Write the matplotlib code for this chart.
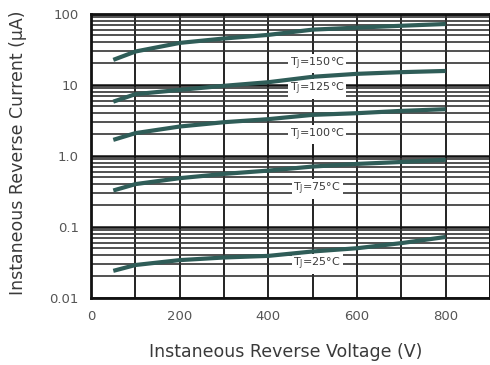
import numpy as np
import matplotlib
matplotlib.use("Agg")
import matplotlib.pyplot as plt
from matplotlib.ticker import LogLocator, MultipleLocator, NullFormatter, FixedLocator

plt.rcParams['font.family'] = ['DejaVu Sans']

# data
voltage = [50, 100, 200, 300, 400, 500, 600, 700, 800]
i_25 = [0.024, 0.029, 0.034, 0.037, 0.039, 0.045, 0.050, 0.059, 0.072]
i_75 = [0.325, 0.40, 0.485, 0.557, 0.62, 0.707, 0.77, 0.82, 0.88]
i_100 = [1.68, 2.09, 2.59, 2.98, 3.29, 3.78, 3.99, 4.3, 4.54]
i_125 = [5.8, 7.4, 8.5, 9.7, 10.9, 13.0, 14.3, 15.1, 15.7]
i_150 = [22.5, 29.5, 39, 45, 50.6, 60, 64, 68, 72]

curves = [i_25, i_75, i_100, i_125, i_150]
labels = ['25', '75', '100', '125', '150']
label_y = [0.03, 0.34, 2.0, 8.8, 20.0]
label_x = 510

x_ticks = [0, 200, 400, 600, 800]
y_ticks = [0.01, 0.1, 1.0, 10, 100]
y_ticklabels = ['0.01', '0.1', '1.0', '10', '100']

fig = plt.figure(figsize=(4.9, 3.65), dpi=100)
ax = fig.add_axes([0.186, 0.184, 0.814, 0.778])

line_col = '#2f5d58'
for c in curves:
    ax.plot(voltage, c, color=line_col, lw=3.0, solid_capstyle='butt', zorder=3)

for lab, ly in zip(labels, label_y):
    ax.text(label_x, ly, 'T$_\\mathregular{J}$=' + lab + '°C', fontsize=8,
            ha='center', va='center', color='#3a3a3a', zorder=2.5,
            bbox=dict(facecolor='white', edgecolor='none', pad=1.2))

ax.set_yscale('log')
ax.set_xlim(0, 900)
ax.set_ylim(0.01, 100)

ax.xaxis.set_major_locator(FixedLocator(x_ticks))
ax.xaxis.set_minor_locator(MultipleLocator(100))
ax.set_yticks(y_ticks)
ax.set_yticklabels(y_ticklabels)
ax.yaxis.set_minor_locator(LogLocator(base=10, subs=np.arange(2, 10)))
ax.yaxis.set_minor_formatter(NullFormatter())

ax.grid(which='major', axis='y', color='#111111', lw=1.8, zorder=1)
ax.grid(which='minor', axis='y', color='#333333', lw=1.2, zorder=1)
ax.grid(which='both', axis='x', color='#222222', lw=1.4, zorder=1)

ax.tick_params(which='both', length=0, labelsize=9.5, colors='#555555', pad=9)
for s in ax.spines.values():
    s.set_color('#111111')
    s.set_linewidth(2)

ax.set_xlabel('Instaneous Reverse Voltage (V)', fontsize=12.5, color='#3a3a3a', va='center')
ax.set_ylabel('Instaneous Reverse Current (μA)', fontsize=12.5, color='#3a3a3a', va='center')
ax.xaxis.set_label_coords(0.489, -0.19)
ax.yaxis.set_label_coords(-0.183, 0.51)

fig.savefig('out.png', dpi=100)
